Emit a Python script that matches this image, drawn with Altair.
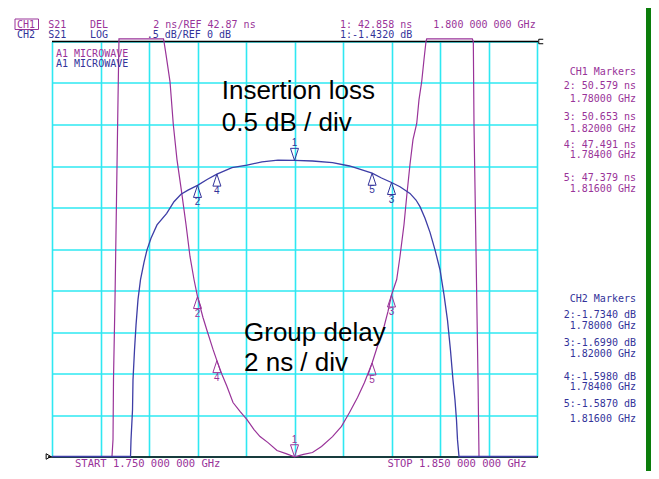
import altair as alt
import pandas as pd

# ---------------- data ----------------
grid_f = [1.75, 1.76, 1.77, 1.78, 1.79, 1.80, 1.81, 1.82, 1.83, 1.84, 1.85]
grid_db = [-5.0, -4.5, -4.0, -3.5, -3.0, -2.5, -2.0, -1.5, -1.0, -0.5, 0.0]

# CH1: S21 group delay (ns), 2 ns/div, ref 42.87 ns at bottom
gd_freq = [1.76237, 1.76258, 1.76268, 1.76299, 1.76330, 1.76361, 1.76381, 1.77299, 1.77309,
           1.77351, 1.77433, 1.77501, 1.77577, 1.77674, 1.77763, 1.77845, 1.77928, 1.78000,
           1.78113, 1.78196, 1.78320, 1.78400, 1.78505, 1.78608, 1.78732, 1.78876, 1.79021,
           1.79165, 1.79289, 1.79454, 1.79639, 1.79825, 1.80000, 1.80186, 1.80371, 1.80557,
           1.80784, 1.80969, 1.81134, 1.81299, 1.81443, 1.81600, 1.81722, 1.81831, 1.81928,
           1.82000, 1.82107, 1.82175, 1.82258, 1.82313, 1.82381, 1.82443, 1.82520, 1.82567,
           1.82623, 1.82670, 1.82711, 1.82726, 1.83666, 1.83687, 1.83701, 1.83742, 1.83784,
           1.83804]
gd_ns = [42.87, 43.69, 46.58, 50.44, 55.26, 60.07, 63.0, 63.0, 62.87,
         62.24, 60.94, 58.87, 57.18, 55.59, 54.05, 52.51, 51.40, 50.579,
         49.57, 48.94, 48.03, 47.491, 46.82, 46.24, 45.47, 45.04, 44.65,
         44.17, 43.83, 43.54, 43.16, 43.01, 42.858, 42.97, 43.06, 43.35,
         43.83, 44.32, 44.99, 45.71, 46.44, 47.379, 48.27, 48.99, 49.86,
         50.653, 51.40, 52.51, 54.05, 55.40, 56.94, 58.14, 58.92, 60.07,
         60.94, 62.00, 62.87, 63.0, 63.0, 62.87, 58.87, 52.85, 46.58,
         42.87]

# CH2: S21 insertion loss (dB), 0.5 dB/div, ref 0 dB at top
il_freq = [1.75000, 1.76619, 1.76629, 1.76660, 1.76670, 1.76701, 1.76732, 1.76773, 1.76825,
           1.76897, 1.76959, 1.77041, 1.77165, 1.77365, 1.77515, 1.77660, 1.77804, 1.78000,
           1.78206, 1.78400, 1.78711, 1.79021, 1.79330, 1.79660, 1.80000, 1.80371, 1.80784,
           1.81134, 1.81600, 1.81794, 1.82000, 1.82175, 1.82381, 1.82505, 1.82588, 1.82691,
           1.82794, 1.82897, 1.83000, 1.83082, 1.83155, 1.83216, 1.83268, 1.83309, 1.83340,
           1.83361, 1.83392, 1.85000]
il_db = [-5.0, -5.0, -4.80, -4.44, -4.08, -3.72, -3.42, -3.11, -2.87,
         -2.66, -2.51, -2.37, -2.21, -2.07, -1.93, -1.84, -1.79, -1.734,
         -1.66, -1.598, -1.52, -1.49, -1.45, -1.43, -1.432, -1.44, -1.46,
         -1.50, -1.587, -1.645, -1.699, -1.75, -1.83, -1.91, -1.99, -2.13,
         -2.30, -2.51, -2.75, -3.05, -3.36, -3.72, -4.08, -4.32, -4.56,
         -4.80, -5.0, -5.0]

# markers
mk_id = ["1", "2", "3", "4", "5"]
mk_freq = [1.800, 1.780, 1.820, 1.784, 1.816]
mk_gd = [42.858, 50.579, 50.653, 47.491, 47.379]
mk_il = [-1.432, -1.734, -1.699, -1.598, -1.587]

hdr1 = ["CH1", "S21", "DEL", "2 ns/REF 42.87 ns", "1: 42.858 ns", "1.800 000 000 GHz"]
hdr2 = ["CH2", "S21", "LOG", ".5 dB/REF 0 dB", "1:-1.4320 dB"]
ch1_panel = ["CH1 Markers", "2: 50.579 ns", "1.78000 GHz", "3: 50.653 ns", "1.82000 GHz",
             "4: 47.491 ns", "1.78400 GHz", "5: 47.379 ns", "1.81600 GHz"]
ch2_panel = ["CH2 Markers", "2:-1.7340 dB", "1.78000 GHz", "3:-1.6990 dB", "1.82000 GHz",
             "4:-1.5980 dB", "1.78400 GHz", "5:-1.5870 dB", "1.81600 GHz"]
footer = ["START 1.750 000 000 GHz", "STOP 1.850 000 000 GHz"]
notes = ["Insertion loss", "0.5 dB / div", "Group delay", "2 ns / div"]

# ---------------- style ----------------
PURPLE = "#993399"
NAVY = "#33339a"
NAVY_LINE = "#3d3da6"
CYAN = "#2ee8f2"
GREEN = "#0b7d0b"
MONO = "DejaVu Sans Mono"
SANS = "Liberation Sans"
OX, OY = 52, 41.5  # page position of plot origin

gd_df = pd.DataFrame({"i": range(len(gd_freq)), "f": gd_freq, "v": gd_ns})
il_df = pd.DataFrame({"i": range(len(il_freq)), "f": il_freq, "v": il_db})
mk_gd_df = pd.DataFrame({"id": mk_id, "f": mk_freq, "v": mk_gd})
mk_il_df = pd.DataFrame({"id": mk_id, "f": mk_freq, "v": mk_il})

xs = alt.Scale(domain=[1.75, 1.85], nice=False, zero=False)
y2s = alt.Scale(domain=[-5.0, 0.0], nice=False, zero=False)
y1s = alt.Scale(domain=[42.87, 62.87], nice=False, zero=False)
xaxis = alt.Axis(values=grid_f, grid=True, gridColor=CYAN, gridWidth=1.6, gridOpacity=1,
                 labels=False, ticks=False, domain=False, title=None)
yaxis = alt.Axis(values=grid_db, grid=True, gridColor=CYAN, gridWidth=1.6, gridOpacity=1,
                 labels=False, ticks=False, domain=False, title=None)

X = alt.X("f:Q", scale=xs, axis=xaxis)

grid_layer = alt.Chart(il_df).mark_line(opacity=0).encode(
    x=X, y=alt.Y("v:Q", scale=y2s, axis=yaxis))

frame = [
    alt.Chart(pd.DataFrame({"a": [0]})).mark_rule(color="black", strokeWidth=1.5).encode(
        x=alt.value(0), x2=alt.value(486), y=alt.value(0)),
    alt.Chart(pd.DataFrame({"a": [0]})).mark_rule(color="black", strokeWidth=1.5).encode(
        x=alt.value(-4), x2=alt.value(486), y=alt.value(415.5)),
]

gd_line = alt.Chart(gd_df).mark_line(color=PURPLE, strokeWidth=1.2, clip=False).encode(
    x=X, y=alt.Y("v:Q", scale=y1s, axis=None), order="i:Q")
il_line = alt.Chart(il_df).mark_line(color=NAVY_LINE, strokeWidth=1.3, clip=False).encode(
    x=X, y=alt.Y("v:Q", scale=y2s, axis=None), order="i:Q")

UP = "M0,0L-0.667,2L0.667,2Z"
DOWN = "M0,0L-0.667,-2L0.667,-2Z"


def marker_layers(df, scale, color):
    up = df[df["id"] != "1"]
    dn = df[df["id"] == "1"]
    enc = dict(x=X, y=alt.Y("v:Q", scale=scale, axis=None))
    return [
        alt.Chart(up).mark_point(shape=UP, size=144, filled=False, color=color,
                                 strokeWidth=1, opacity=1).encode(**enc),
        alt.Chart(dn).mark_point(shape=DOWN, size=144, filled=False, color=color,
                                 strokeWidth=1, opacity=1).encode(**enc),
        alt.Chart(up).mark_text(font=SANS, fontSize=10, color=color, baseline="top",
                                dy=12).encode(text="id:N", **enc),
        alt.Chart(dn).mark_text(font=SANS, fontSize=10, color=color, baseline="bottom",
                                dy=-12).encode(text="id:N", **enc),
    ]


def txt(s, x, y, color, size, font=MONO, align="left"):
    return alt.Chart(pd.DataFrame({"t": [s]})).mark_text(
        font=font, fontSize=size, color=color, align=align, baseline="alphabetic"
    ).encode(x=alt.value(x - OX), y=alt.value(y - OY), text="t:N")


texts = []
# header (two tight rows, as on the instrument screen)
r1 = 27.6
r2 = 38.0
for s, x in zip(hdr1, [17, 48.3, 90, 153.3, 340, 433.3]):
    texts.append(txt(s, x, r1, PURPLE, 10))
for s, x in zip(hdr2, [17, 48.3, 90, 146.7, 340]):
    texts.append(txt(s, x, r2, NAVY, 10))
texts.append(txt("A1 MICROWAVE", 56, 56.6, PURPLE, 10))
texts.append(txt("A1 MICROWAVE", 56, 67.2, NAVY, 10))
# marker panels
for s, y in zip(ch1_panel, [75, 89, 101.5, 120, 132, 147.5, 158, 181, 192]):
    texts.append(txt(s, 636, y, PURPLE, 10, align="right"))
for s, y in zip(ch2_panel, [302, 318, 329, 346, 357, 379.5, 390, 407, 422]):
    texts.append(txt(s, 636, y, NAVY, 10, align="right"))
# footer
texts.append(txt(footer[0], 75, 467, PURPLE, 10.5))
texts.append(txt(footer[1], 387.4, 467, PURPLE, 10.5))
# annotations
texts.append(txt(notes[0], 221.7, 99, "black", 26, font=SANS))
texts.append(txt(notes[1], 221.7, 131, "black", 26, font=SANS))
texts.append(txt(notes[2], 244, 341, "black", 26, font=SANS))
texts.append(txt(notes[3], 244, 371, "black", 26, font=SANS))

one = pd.DataFrame({"a": [0]})
deco = [
    # box around CH1
    alt.Chart(one).mark_rect(fill=None, stroke=PURPLE, strokeWidth=1).encode(
        x=alt.value(15 - OX), x2=alt.value(38.5 - OX), y=alt.value(19 - OY), y2=alt.value(29.5 - OY)),
    # reference pointers
    alt.Chart(one).mark_point(shape="triangle-right", size=30, filled=False, color="black",
                              opacity=1, strokeWidth=1).encode(
        x=alt.value(48.5 - OX), y=alt.value(456.5 - OY)),
    alt.Chart(one).mark_point(shape="M1,-1L-1,-1L-1,1L1,1", size=20, filled=False, color="black",
                              opacity=1, strokeWidth=1).encode(
        x=alt.value(541 - OX), y=alt.value(41.5 - OY)),
    # green instrument frame (right edge)
    alt.Chart(one).mark_rect(color=GREEN).encode(
        x=alt.value(646 - OX), x2=alt.value(651 - OX), y=alt.value(8 - OY), y2=alt.value(471 - OY)),
]

layers = [grid_layer] + frame + [gd_line, il_line] \
    + marker_layers(mk_gd_df, y1s, PURPLE) + marker_layers(mk_il_df, y2s, NAVY) \
    + texts + deco

chart = alt.layer(*layers).resolve_scale(y="independent").properties(
    width=485, height=415,
    padding={"left": 44, "top": 33.5, "right": 114, "bottom": 14.5},
    autosize=alt.AutoSizeParams(type="none"),
    background="white",
).configure_view(stroke=None)

chart.save("out.html", embed_options={"renderer": "svg", "actions": False})
